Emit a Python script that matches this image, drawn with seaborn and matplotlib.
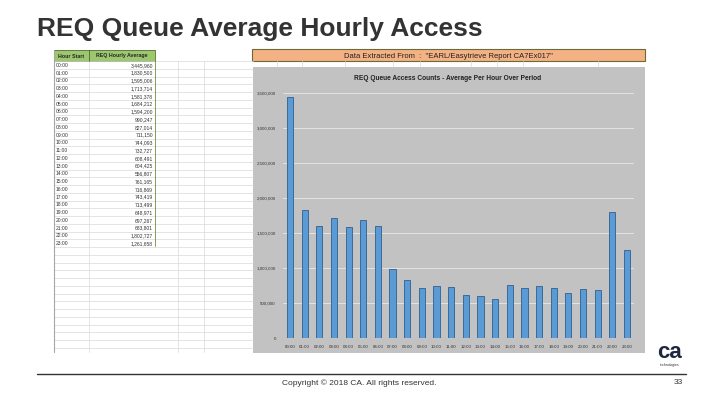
import matplotlib
matplotlib.use("Agg")
import matplotlib.pyplot as plt
import seaborn as sns
import pandas as pd
from matplotlib.patches import Rectangle
from matplotlib.ticker import FuncFormatter

# --------------------
# data
# --------------------
hours = ["00:00", "01:00", "02:00", "03:00", "04:00", "05:00", "06:00", "07:00",
         "08:00", "09:00", "10:00", "11:00", "12:00", "13:00", "14:00", "15:00",
         "16:00", "17:00", "18:00", "19:00", "20:00", "21:00", "22:00", "23:00"]
avg_access = [3445960, 1830500, 1595006, 1713714, 1581378, 1684212, 1594200, 990247,
              827014, 711150, 744093, 732727, 608491, 604425, 556807, 761165,
              716869, 743419, 713499, 648971, 697267, 683801, 1802727, 1261658]
yticks = [0, 500000, 1000000, 1500000, 2000000, 2500000, 3000000, 3500000]

slide_title = "REQ Queue Average Hourly Access"
chart_title = "REQ Queue Access Counts - Average Per Hour Over Period"
source_note = 'Data Extracted From  :  "EARL/Easytrieve Report CA7Ex017"'
footer = "Copyright \u00a9 2018 CA. All rights reserved."
page_no = "33"

df = pd.DataFrame({"hour": hours, "avg": avg_access})

sns.set_style("white")
plt.rcParams["font.family"] = ["Liberation Sans", "DejaVu Sans"]

W, H = 720, 405
fig = plt.figure(figsize=(7.2, 4.05), dpi=100)

# background axes in pixel coordinates for the slide decorations
bg = fig.add_axes([0, 0, 1, 1])
bg.set_xlim(0, W)
bg.set_ylim(H, 0)
bg.set_axis_off()

bg.text(37, 29, slide_title, fontsize=19, fontweight="bold", color="#333333",
        va="center", ha="left")

# spreadsheet grid
grid_c = "#d9d9d9"
row_h = 7.75
top = 61
y = top
while y < 353:
    bg.plot([54, 253], [y, y], color=grid_c, lw=0.5)
    y += row_h
for gx in [89, 178, 204]:
    bg.plot([gx, gx], [top, 352], color=grid_c, lw=0.5)
bg.plot([54, 54], [50, 352], color="#a6a6a6", lw=0.8)
bg.plot([155, 155], [50, 246], color="#6a8f3a", lw=0.6)
for gx in [277, 302, 345, 393, 420, 471, 497, 523, 598]:
    bg.plot([gx, gx], [61, 67], color=grid_c, lw=0.5)

# table header
bg.add_patch(Rectangle((54, 50), 101, 11, facecolor="#9cc76f", edgecolor="#4f6b2a", lw=0.6))
bg.plot([89, 89], [50, 61], color="#4f6b2a", lw=0.6)
bg.text(71.5, 55.5, "Hour Start", fontsize=3.8, fontweight="bold", ha="center",
        va="center_baseline")
bg.text(122, 55.5, "REQ Hourly Average", fontsize=3.8, fontweight="bold", ha="center",
        va="center_baseline")
for i, (h, v) in enumerate(zip(hours, avg_access)):
    yy = top + (i + 0.5) * row_h
    bg.text(56, yy, h, fontsize=3.6, ha="left", va="center_baseline", color="#333333")
    bg.text(153, yy, f"{v:,}", fontsize=3.6, ha="right", va="center_baseline", color="#333333")

# source banner
bg.add_patch(Rectangle((252, 49), 393, 11.5, facecolor="#f4b183", edgecolor="#6b6b3a", lw=0.8))
bg.text(448, 55, source_note, fontsize=5.5, ha="center", va="center_baseline", color="#222222")

# chart area
bg.add_patch(Rectangle((253, 67), 392, 286, facecolor="#c2c2c2", edgecolor="none"))
bg.text(448, 78, chart_title, fontsize=4.8, fontweight="bold", ha="center",
        va="center_baseline", color="#222222")

# footer
bg.plot([37, 686], [374, 374], color="#333333", lw=1.0)
bg.text(359, 382, footer, fontsize=6, ha="center", va="center_baseline", color="#333333")
bg.text(683, 382, page_no, fontsize=6, ha="right", va="center_baseline", color="#333333")
bg.text(670, 353, "ca", fontsize=16, fontweight="bold", ha="center", va="center",
        color="#1d2740")
bg.text(670, 365, "technologies", fontsize=2.5, ha="center", va="center", color="#333333")

# --------------------
# bar chart
# --------------------
x0, x1 = 282.7, 634.3
y_top, y_zero = 93, 338
ax = fig.add_axes([x0 / W, 1 - y_zero / H, (x1 - x0) / W, (y_zero - y_top) / H])
sns.barplot(data=df, x="hour", y="avg", color="#5b9bd5", width=0.42,
            edgecolor="#2f5f8f", linewidth=0.6, saturation=1, ax=ax)
ax.set_facecolor("#c2c2c2")
ax.set_ylim(0, 3500000)
ax.set_yticks(yticks)
ax.yaxis.set_major_formatter(FuncFormatter(lambda v, p: f"{int(v):,}"))
ax.grid(axis="y", color="#e4e4e4", lw=0.7)
ax.set_axisbelow(True)
for s in ax.spines.values():
    s.set_visible(False)
ax.tick_params(axis="both", labelsize=3.2, length=0, pad=5, colors="#333333")
ax.set_xlabel("")
ax.set_ylabel("")

fig.savefig("out.png", dpi=100)
